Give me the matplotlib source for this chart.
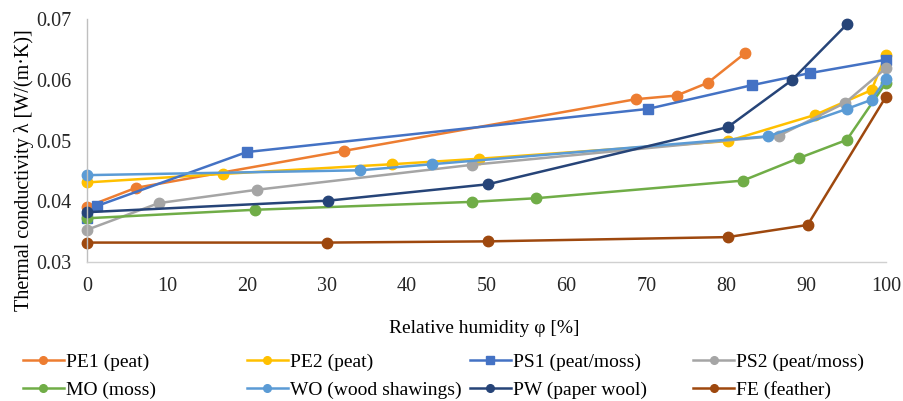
import matplotlib
matplotlib.use('Agg')
import matplotlib.pyplot as plt
from matplotlib.ticker import FormatStrFormatter

plt.rcParams['font.family'] = ['Liberation Serif', 'DejaVu Serif']

# relative humidity [%] and thermal conductivity [W/(m.K)] for each sample
pe1_x = [0, 6.1, 32.2, 68.7, 73.8, 77.7, 82.4]
pe1_y = [0.0391, 0.0422, 0.0483, 0.0568, 0.0574, 0.0595, 0.0644]

pe2_x = [0, 17.0, 38.2, 49.1, 80.2, 91.1, 98.2, 100]
pe2_y = [0.0431, 0.0445, 0.0461, 0.0470, 0.0499, 0.0542, 0.0583, 0.0641]

ps1_x = [0, 1.2, 20.0, 70.2, 83.2, 90.5, 100]
ps1_y = [0.0372, 0.0392, 0.0481, 0.0552, 0.0591, 0.0611, 0.0633]

ps2_x = [0, 9.0, 21.3, 48.2, 86.6, 94.9, 100]
ps2_y = [0.0353, 0.0397, 0.0419, 0.0460, 0.0508, 0.0562, 0.0619]

mo_x = [0, 21.0, 48.2, 56.2, 82.1, 89.1, 95.1, 100]
mo_y = [0.0372, 0.0386, 0.0399, 0.0405, 0.0434, 0.0471, 0.0501, 0.0595]

wo_x = [0, 34.2, 43.2, 85.3, 95.1, 98.2, 100]
wo_y = [0.0443, 0.0451, 0.0461, 0.0507, 0.0552, 0.0567, 0.0601]

pw_x = [0, 30.2, 50.2, 80.2, 88.2, 95.1]
pw_y = [0.0382, 0.0401, 0.0428, 0.0522, 0.0599, 0.0691]

fe_x = [0, 30.0, 50.2, 80.2, 90.2, 100]
fe_y = [0.0332, 0.0332, 0.0334, 0.0341, 0.0361, 0.0572]

series = [
    ('PE1 (peat)', pe1_x, pe1_y, '#ED7D31', 'o'),
    ('PE2 (peat)', pe2_x, pe2_y, '#FFC000', 'o'),
    ('PS1 (peat/moss)', ps1_x, ps1_y, '#4472C4', 's'),
    ('PS2 (peat/moss)', ps2_x, ps2_y, '#A5A5A5', 'o'),
    ('MO (moss)', mo_x, mo_y, '#70AD47', 'o'),
    ('WO (wood shawings)', wo_x, wo_y, '#5B9BD5', 'o'),
    ('PW (paper wool)', pw_x, pw_y, '#264478', 'o'),
    ('FE (feather)', fe_x, fe_y, '#9E480E', 'o'),
]

fig = plt.figure(figsize=(9.04, 4.01), dpi=100)
ax = fig.add_axes([0.0962, 0.3466, 0.8838, 0.606])

handles = []
for label, x, y, color, marker in series:
    h, = ax.plot(x, y, color=color, lw=1.8, marker=marker,
                 markersize=7.5 if marker == 'o' else 7.2, label=label,
                 clip_on=False)
    handles.append(h)

ax.set_xlim(0, 100)
ax.set_ylim(0.03, 0.07)
ax.set_xticks(range(0, 101, 10))
ax.set_yticks([0.03, 0.04, 0.05, 0.06, 0.07])
ax.yaxis.set_major_formatter(FormatStrFormatter('%.2f'))
ax.tick_params(length=0, labelsize=14.5, colors='#262626')
ax.tick_params(axis='y', pad=11)
ax.tick_params(axis='x', pad=11)

for side in ['top', 'right']:
    ax.spines[side].set_visible(False)
ax.spines['left'].set_color('#BFBFBF')
ax.spines['bottom'].set_color('#D0D0D0')
ax.spines['left'].set_linewidth(1.0)
ax.spines['bottom'].set_linewidth(1.0)

ax.set_xlabel('Relative humidity φ [%]', fontsize=14, va='center')
ax.xaxis.set_label_coords(0.497, -0.272)
ax.set_ylabel('Thermal conductivity λ [W/(m·K)]', fontsize=14.5,
              va='center', ha='center', rotation_mode='default')
ax.yaxis.set_label_coords(-0.079, 0.379)

# legend laid out as an even 4 x 2 grid, one legend per column
col_x = [0.0254, 0.273, 0.520, 0.767]
for i, cx in enumerate(col_x):
    hs = [handles[i], handles[i + 4]]
    leg = fig.legend(hs, [h.get_label() for h in hs], loc='center left',
                     bbox_to_anchor=(cx, 0.0623), ncol=1, frameon=False,
                     fontsize=14, handlelength=2.1, handletextpad=0.1,
                     labelspacing=0.5, borderaxespad=0, borderpad=0)
    for lh in leg.legend_handles:
        lh.set_markersize(5.5)

fig.savefig('out.png', dpi=100)
